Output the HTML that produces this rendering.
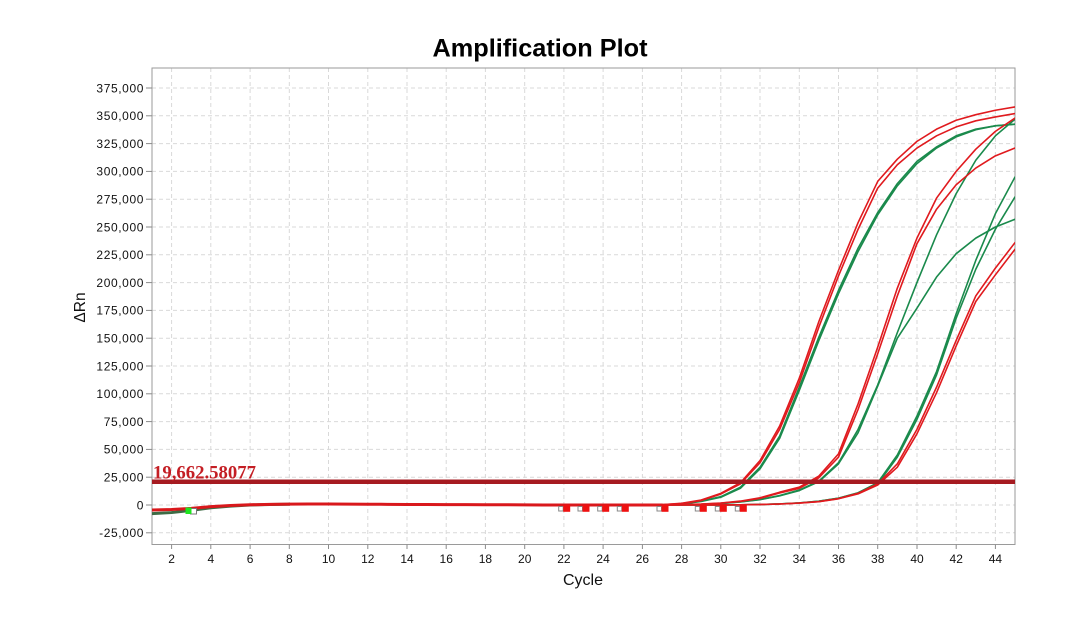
<!DOCTYPE html>
<html>
<head>
<meta charset="utf-8">
<style>
html,body{margin:0;padding:0;background:#fff;}
svg{display:block;}
text{font-family:"Liberation Sans",Arial,sans-serif;}
</style>
</head>
<body>
<svg width="1080" height="617" viewBox="0 0 1080 617" xmlns="http://www.w3.org/2000/svg">
<rect x="0" y="0" width="1080" height="617" fill="#fff"/>

<!-- Title -->
<text x="540" y="56.5" text-anchor="middle" font-size="25" font-weight="bold" fill="#000" textLength="215" lengthAdjust="spacingAndGlyphs">Amplification Plot</text>

<!-- Gridlines -->
<g stroke="#d9d9d9" stroke-width="1" stroke-dasharray="4,3" fill="none">
<line x1="152" y1="88.0" x2="1015" y2="88.0"/>
<line x1="152" y1="115.8" x2="1015" y2="115.8"/>
<line x1="152" y1="143.6" x2="1015" y2="143.6"/>
<line x1="152" y1="171.4" x2="1015" y2="171.4"/>
<line x1="152" y1="199.2" x2="1015" y2="199.2"/>
<line x1="152" y1="227.0" x2="1015" y2="227.0"/>
<line x1="152" y1="254.8" x2="1015" y2="254.8"/>
<line x1="152" y1="282.6" x2="1015" y2="282.6"/>
<line x1="152" y1="310.4" x2="1015" y2="310.4"/>
<line x1="152" y1="338.2" x2="1015" y2="338.2"/>
<line x1="152" y1="366.0" x2="1015" y2="366.0"/>
<line x1="152" y1="393.8" x2="1015" y2="393.8"/>
<line x1="152" y1="421.6" x2="1015" y2="421.6"/>
<line x1="152" y1="449.4" x2="1015" y2="449.4"/>
<line x1="152" y1="477.2" x2="1015" y2="477.2"/>
<line x1="152" y1="505.0" x2="1015" y2="505.0"/>
<line x1="152" y1="532.8" x2="1015" y2="532.8"/>
<line x1="171.6" y1="68" x2="171.6" y2="544.5"/>
<line x1="210.8" y1="68" x2="210.8" y2="544.5"/>
<line x1="250.1" y1="68" x2="250.1" y2="544.5"/>
<line x1="289.3" y1="68" x2="289.3" y2="544.5"/>
<line x1="328.5" y1="68" x2="328.5" y2="544.5"/>
<line x1="367.8" y1="68" x2="367.8" y2="544.5"/>
<line x1="407.0" y1="68" x2="407.0" y2="544.5"/>
<line x1="446.2" y1="68" x2="446.2" y2="544.5"/>
<line x1="485.4" y1="68" x2="485.4" y2="544.5"/>
<line x1="524.7" y1="68" x2="524.7" y2="544.5"/>
<line x1="563.9" y1="68" x2="563.9" y2="544.5"/>
<line x1="603.1" y1="68" x2="603.1" y2="544.5"/>
<line x1="642.4" y1="68" x2="642.4" y2="544.5"/>
<line x1="681.6" y1="68" x2="681.6" y2="544.5"/>
<line x1="720.8" y1="68" x2="720.8" y2="544.5"/>
<line x1="760.0" y1="68" x2="760.0" y2="544.5"/>
<line x1="799.3" y1="68" x2="799.3" y2="544.5"/>
<line x1="838.5" y1="68" x2="838.5" y2="544.5"/>
<line x1="877.7" y1="68" x2="877.7" y2="544.5"/>
<line x1="917.0" y1="68" x2="917.0" y2="544.5"/>
<line x1="956.2" y1="68" x2="956.2" y2="544.5"/>
<line x1="995.4" y1="68" x2="995.4" y2="544.5"/>
</g>

<!-- Frame -->
<rect x="152" y="68" width="863" height="476.5" fill="none" stroke="#9a9a9a" stroke-width="1"/>

<!-- Ticks -->
<g stroke="#8a8a8a" stroke-width="1">
<line x1="146" y1="88.0" x2="152" y2="88.0"/>
<line x1="146" y1="115.8" x2="152" y2="115.8"/>
<line x1="146" y1="143.6" x2="152" y2="143.6"/>
<line x1="146" y1="171.4" x2="152" y2="171.4"/>
<line x1="146" y1="199.2" x2="152" y2="199.2"/>
<line x1="146" y1="227.0" x2="152" y2="227.0"/>
<line x1="146" y1="254.8" x2="152" y2="254.8"/>
<line x1="146" y1="282.6" x2="152" y2="282.6"/>
<line x1="146" y1="310.4" x2="152" y2="310.4"/>
<line x1="146" y1="338.2" x2="152" y2="338.2"/>
<line x1="146" y1="366.0" x2="152" y2="366.0"/>
<line x1="146" y1="393.8" x2="152" y2="393.8"/>
<line x1="146" y1="421.6" x2="152" y2="421.6"/>
<line x1="146" y1="449.4" x2="152" y2="449.4"/>
<line x1="146" y1="477.2" x2="152" y2="477.2"/>
<line x1="146" y1="505.0" x2="152" y2="505.0"/>
<line x1="146" y1="532.8" x2="152" y2="532.8"/>
<line x1="171.6" y1="544.5" x2="171.6" y2="549"/>
<line x1="210.8" y1="544.5" x2="210.8" y2="549"/>
<line x1="250.1" y1="544.5" x2="250.1" y2="549"/>
<line x1="289.3" y1="544.5" x2="289.3" y2="549"/>
<line x1="328.5" y1="544.5" x2="328.5" y2="549"/>
<line x1="367.8" y1="544.5" x2="367.8" y2="549"/>
<line x1="407.0" y1="544.5" x2="407.0" y2="549"/>
<line x1="446.2" y1="544.5" x2="446.2" y2="549"/>
<line x1="485.4" y1="544.5" x2="485.4" y2="549"/>
<line x1="524.7" y1="544.5" x2="524.7" y2="549"/>
<line x1="563.9" y1="544.5" x2="563.9" y2="549"/>
<line x1="603.1" y1="544.5" x2="603.1" y2="549"/>
<line x1="642.4" y1="544.5" x2="642.4" y2="549"/>
<line x1="681.6" y1="544.5" x2="681.6" y2="549"/>
<line x1="720.8" y1="544.5" x2="720.8" y2="549"/>
<line x1="760.0" y1="544.5" x2="760.0" y2="549"/>
<line x1="799.3" y1="544.5" x2="799.3" y2="549"/>
<line x1="838.5" y1="544.5" x2="838.5" y2="549"/>
<line x1="877.7" y1="544.5" x2="877.7" y2="549"/>
<line x1="917.0" y1="544.5" x2="917.0" y2="549"/>
<line x1="956.2" y1="544.5" x2="956.2" y2="549"/>
<line x1="995.4" y1="544.5" x2="995.4" y2="549"/>
</g>

<!-- Y labels -->
<g font-size="12" fill="#111" text-anchor="end" letter-spacing="0.6">
<text x="144" y="92.3">375,000</text>
<text x="144" y="120.1">350,000</text>
<text x="144" y="147.9">325,000</text>
<text x="144" y="175.7">300,000</text>
<text x="144" y="203.5">275,000</text>
<text x="144" y="231.3">250,000</text>
<text x="144" y="259.1">225,000</text>
<text x="144" y="286.9">200,000</text>
<text x="144" y="314.7">175,000</text>
<text x="144" y="342.5">150,000</text>
<text x="144" y="370.3">125,000</text>
<text x="144" y="398.1">100,000</text>
<text x="144" y="425.9">75,000</text>
<text x="144" y="453.7">50,000</text>
<text x="144" y="481.5">25,000</text>
<text x="144" y="509.3">0</text>
<text x="144" y="537.1">-25,000</text>
</g>

<!-- X labels -->
<g font-size="12" fill="#111" text-anchor="middle">
<text x="171.6" y="563">2</text>
<text x="210.8" y="563">4</text>
<text x="250.1" y="563">6</text>
<text x="289.3" y="563">8</text>
<text x="328.5" y="563">10</text>
<text x="367.8" y="563">12</text>
<text x="407.0" y="563">14</text>
<text x="446.2" y="563">16</text>
<text x="485.4" y="563">18</text>
<text x="524.7" y="563">20</text>
<text x="563.9" y="563">22</text>
<text x="603.1" y="563">24</text>
<text x="642.4" y="563">26</text>
<text x="681.6" y="563">28</text>
<text x="720.8" y="563">30</text>
<text x="760.0" y="563">32</text>
<text x="799.3" y="563">34</text>
<text x="838.5" y="563">36</text>
<text x="877.7" y="563">38</text>
<text x="917.0" y="563">40</text>
<text x="956.2" y="563">42</text>
<text x="995.4" y="563">44</text>
</g>

<!-- Axis titles -->
<text x="583" y="585" text-anchor="middle" font-size="16" fill="#111">Cycle</text>
<text transform="translate(85,307.5) rotate(-90)" text-anchor="middle" font-size="15.5" fill="#111">ΔRn</text>

<defs>
<clipPath id="pc"><rect x="152" y="68" width="863" height="476.5"/></clipPath>
</defs>

<g clip-path="url(#pc)">
<g transform="translate(132.386,505) scale(19.614,-0.001112)" fill="none" stroke-linejoin="round" stroke-linecap="round">
<polyline vector-effect="non-scaling-stroke" stroke="#3d6b45" stroke-width="3" points="1,-7800 2,-6800 3,-4800 4,-2500 5,-1000 6,0 7,400 8,700"/>
<polyline vector-effect="non-scaling-stroke" stroke="#d9181c" stroke-width="3" points="1,-4500 2,-4000 3,-3000 4,-1500 5,-400 6,200 7,600 8,800 9,900 10,900 11,800 12,700 13,600 14,500 15,400 16,300 17,300 18,200 19,200 20,100 21,0 22,0 23,0 24,0 25,0 26,0 27,0"/>

<g stroke="#1a8a4c" stroke-width="1.6">
<polyline vector-effect="non-scaling-stroke" points="25,0 26,50 27,200 28,1000 29,3500 30,7500 31,16000 32,34000 33,62000 34,106000 35,151000 36,193000 37,231000 38,263000 39,289000 40,309000 41,322000 42,332000 43,338000 44,341000 45,342500"/>
<polyline vector-effect="non-scaling-stroke" points="25,0 26,50 27,200 28,900 29,3200 30,7000 31,15000 32,32500 33,60000 34,103000 35,148000 36,190000 37,228000 38,261000 39,287000 40,307000 41,321000 42,331000 43,337500 44,341000 45,342500"/>
<polyline vector-effect="non-scaling-stroke" points="25,0 27,0 28,200 29,600 30,1400 31,2800 32,5000 33,8500 34,13500 35,21500 36,38000 37,68000 38,108000 39,155000 40,200000 41,243000 42,280000 43,310000 44,332000 45,347000"/>
<polyline vector-effect="non-scaling-stroke" points="25,0 27,0 28,200 29,600 30,1300 31,2700 32,4800 33,8200 34,13000 35,21000 36,37000 37,65000 38,107000 39,150000 40,177000 41,205000 42,226000 43,240000 44,250000 45,257000"/>
<polyline vector-effect="non-scaling-stroke" points="25,0 29,0 30,100 31,200 32,500 33,1000 34,1900 35,3400 36,6200 37,11000 38,20000 39,45000 40,80000 41,120000 42,172000 43,220000 44,262000 45,295000"/>
<polyline vector-effect="non-scaling-stroke" points="25,0 29,0 30,100 31,200 32,500 33,1000 34,1900 35,3400 36,6100 37,10800 38,19000 39,43000 40,77000 41,117000 42,168000 43,212000 44,248000 45,277000"/>
</g>

<g stroke="#e01a1e" stroke-width="1.6">
<polyline vector-effect="non-scaling-stroke" points="25,0 26,100 27,300 28,1500 29,4500 30,10500 31,20000 32,40000 33,71000 34,114000 35,165000 36,211000 37,254000 38,291000 39,311000 40,327000 41,338000 42,346000 43,351000 44,355000 45,358000"/>
<polyline vector-effect="non-scaling-stroke" points="25,0 26,100 27,300 28,1300 29,4000 30,9800 31,19000 32,38000 33,68000 34,110000 35,160000 36,206000 37,248000 38,285000 39,306000 40,321000 41,332000 42,340000 43,345500 44,349000 45,352000"/>
<polyline vector-effect="non-scaling-stroke" points="25,0 27,0 28,300 29,800 30,1800 31,3500 32,6500 33,11500 34,16000 35,26000 36,46000 37,91000 38,142000 39,195000 40,240000 41,276000 42,300000 43,320000 44,336000 45,348000"/>
<polyline vector-effect="non-scaling-stroke" points="25,0 27,0 28,250 29,700 30,1600 31,3200 32,6000 33,10800 34,15000 35,24500 36,43000 37,86000 38,136000 39,188000 40,235000 41,266000 42,288000 43,303000 44,314000 45,321000"/>
<polyline vector-effect="non-scaling-stroke" points="25,0 29,0 30,100 31,200 32,450 33,900 34,1700 35,3100 36,5800 37,10500 38,19000 39,37000 40,68000 41,106000 42,148000 43,188000 44,213000 45,236000"/>
<polyline vector-effect="non-scaling-stroke" points="25,0 29,0 30,100 31,200 32,450 33,900 34,1700 35,3000 36,5600 37,10000 38,18000 39,34000 40,64000 41,101000 42,143000 43,183000 44,207000 45,230000"/>
</g>
</g>
</g>

<!-- Threshold -->
<rect x="152" y="479.5" width="863" height="4.5" fill="#a61b21"/>
<text x="153" y="478.5" style="font-family:'Liberation Serif','Times New Roman',serif;font-weight:bold;font-size:18.5px;" fill="#c41e24" textLength="103" lengthAdjust="spacingAndGlyphs">19,662.58077</text>

<!-- Baseline markers -->
<g>
<rect x="190.5" y="508.5" width="6" height="5.5" fill="#fff" stroke="#777" stroke-width="1"/>
<rect x="185.5" y="507.5" width="6" height="6.5" fill="#1ee61e"/>

<rect x="558.7" y="506.5" width="4.5" height="4.5" fill="#fff" stroke="#888" stroke-width="1"/>
<rect x="563.2" y="504.8" width="7" height="7" fill="#ee1111"/>
<rect x="578.0" y="506.5" width="4.5" height="4.5" fill="#fff" stroke="#888" stroke-width="1"/>
<rect x="582.5" y="504.8" width="7" height="7" fill="#ee1111"/>
<rect x="597.7" y="506.5" width="4.5" height="4.5" fill="#fff" stroke="#888" stroke-width="1"/>
<rect x="602.2" y="504.8" width="7" height="7" fill="#ee1111"/>
<rect x="617.3" y="506.5" width="4.5" height="4.5" fill="#fff" stroke="#888" stroke-width="1"/>
<rect x="621.8" y="504.8" width="7" height="7" fill="#ee1111"/>
<rect x="657.0" y="506.5" width="4.5" height="4.5" fill="#fff" stroke="#888" stroke-width="1"/>
<rect x="661.5" y="504.8" width="7" height="7" fill="#ee1111"/>
<rect x="695.3" y="506.5" width="4.5" height="4.5" fill="#fff" stroke="#888" stroke-width="1"/>
<rect x="699.8" y="504.8" width="7" height="7" fill="#ee1111"/>
<rect x="715.3" y="506.5" width="4.5" height="4.5" fill="#fff" stroke="#888" stroke-width="1"/>
<rect x="719.8" y="504.8" width="7" height="7" fill="#ee1111"/>
<rect x="735.3" y="506.5" width="4.5" height="4.5" fill="#fff" stroke="#888" stroke-width="1"/>
<rect x="739.8" y="504.8" width="7" height="7" fill="#ee1111"/>
</g>
</svg>
</body>
</html>
